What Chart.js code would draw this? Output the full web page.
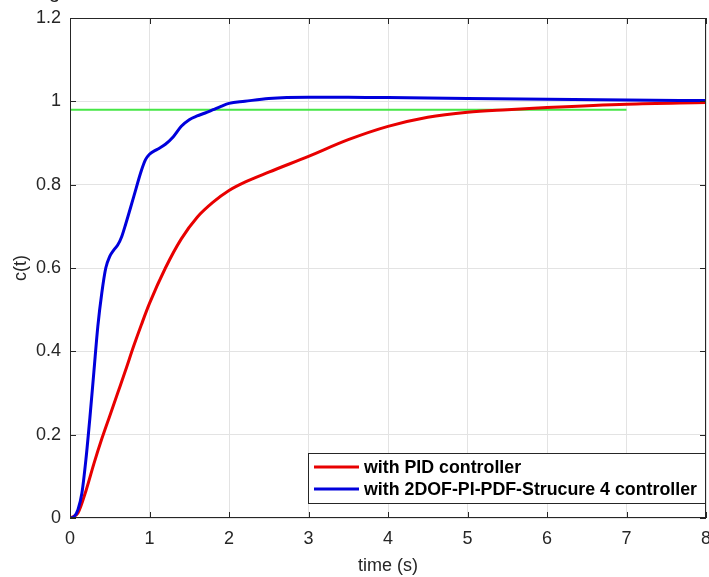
<!DOCTYPE html>
<html>
<head>
<meta charset="utf-8">
<script src="https://cdn.jsdelivr.net/npm/chart.js@4.4.1/dist/chart.umd.min.js"></script>
<style>
  html, body { margin: 0; padding: 0; background: #fff; }
  #wrap { width: 709px; height: 577px; position: relative; }
</style>
</head>
<body>
<div id="wrap"><canvas id="stepChart" width="709" height="577"></canvas></div>
<script>
/* step response data */
const pidTime   = [0, 0.1, 0.2, 0.3, 0.4, 0.5, 0.6, 0.7, 0.8, 0.9, 1.0, 1.2, 1.4, 1.6, 1.8, 2.0, 2.2, 2.5, 3.0, 3.5, 4.0, 4.5, 5.0, 5.5, 6.0, 7.0, 8.0];
const pidValues = [0, 0.012, 0.065, 0.13, 0.19, 0.245, 0.3, 0.355, 0.412, 0.465, 0.515, 0.6, 0.67, 0.722, 0.758, 0.786, 0.806, 0.83, 0.868, 0.908, 0.94, 0.962, 0.974, 0.98, 0.985, 0.993, 0.997];

const dofTime   = [0, 0.05, 0.1, 0.15, 0.2, 0.25, 0.3, 0.35, 0.4, 0.45, 0.5, 0.55, 0.6, 0.65, 0.7, 0.8, 0.9, 0.95, 1.0, 1.1, 1.2, 1.3, 1.4, 1.5, 1.6, 1.7, 1.8, 1.9, 2.0, 2.2, 2.5, 3.0, 3.5, 4.0, 5.0, 6.0, 7.0, 8.0];
const dofValues = [0, 0.003, 0.02, 0.06, 0.14, 0.24, 0.35, 0.46, 0.54, 0.6, 0.628, 0.643, 0.655, 0.675, 0.705, 0.77, 0.835, 0.86, 0.873, 0.885, 0.897, 0.915, 0.94, 0.956, 0.965, 0.972, 0.98, 0.988, 0.995, 1.0, 1.007, 1.01, 1.01, 1.009, 1.007, 1.005, 1.003, 1.002];

const refTime   = [0, 7];
const refValues = [0.98, 0.98];

const xTicks = [0, 1, 2, 3, 4, 5, 6, 7, 8];
const yTicks = [0, 0.2, 0.4, 0.6, 0.8, 1, 1.2];

const pts = (xs, ys) => xs.map((x, i) => ({ x: x, y: ys[i] }));

const FONT = '"Liberation Sans", Arial, Helvetica, sans-serif';

/* ── box, inward ticks, titles, legend ─────────────────── */
const matlabAxes = {
  id: 'matlabAxes',
  afterDraw(chart) {
    const { ctx, chartArea: a, scales } = chart;
    ctx.save();
    ctx.strokeStyle = '#262626';
    ctx.lineWidth = 1;
    ctx.strokeRect(a.left + 0.5, a.top + 0.5, a.right - a.left - 1, a.bottom - a.top - 1);

    ctx.beginPath();
    xTicks.forEach(v => {
      const px = Math.round(scales.x.getPixelForValue(v)) + 0.5;
      ctx.moveTo(px, a.bottom); ctx.lineTo(px, a.bottom - 6);
      ctx.moveTo(px, a.top);    ctx.lineTo(px, a.top + 6);
    });
    yTicks.forEach(v => {
      const py = Math.round(scales.y.getPixelForValue(v)) + 0.5;
      ctx.moveTo(a.left, py);  ctx.lineTo(a.left + 6, py);
      ctx.moveTo(a.right, py); ctx.lineTo(a.right - 6, py);
    });
    ctx.stroke();

    /* axis titles */
    ctx.fillStyle = '#262626';
    ctx.font = '18px ' + FONT;
    ctx.textAlign = 'center';
    ctx.textBaseline = 'middle';
    ctx.fillText('time (s)', (a.left + a.right) / 2, 566);
    ctx.save();
    ctx.translate(21, 268);
    ctx.rotate(-Math.PI / 2);
    ctx.fillText('c(t)', 0, 0);
    ctx.restore();

    /* cut-off figure title remnant */
    ctx.textAlign = 'left';
    ctx.textBaseline = 'alphabetic';
    ctx.font = '20px ' + FONT;
    ctx.fillText('g', 49, -2);

    /* legend */
    const lx = 308, ly = 453, lw = 397, lh = 50;
    ctx.fillStyle = '#fff';
    ctx.fillRect(lx, ly, lw, lh);
    ctx.strokeStyle = '#262626';
    ctx.strokeRect(lx + 0.5, ly + 0.5, lw, lh);
    ctx.font = 'bold 17.8px ' + FONT;
    ctx.textBaseline = 'middle';
    chart.data.datasets.filter(d => d.label).forEach((d, i) => {
      const y = ly + 14 + i * 22;
      ctx.strokeStyle = d.borderColor;
      ctx.lineWidth = 3;
      ctx.beginPath();
      ctx.moveTo(lx + 6, y); ctx.lineTo(lx + 51, y);
      ctx.stroke();
      ctx.fillStyle = '#000';
      ctx.fillText(d.label, lx + 56, y + 1);
    });
    ctx.restore();
  }
};

new Chart(document.getElementById('stepChart'), {
  type: 'line',
  data: {
    datasets: [
      {
        label: 'with PID controller',
        data: pts(pidTime, pidValues),
        borderColor: 'rgb(232,0,0)', borderWidth: 3,
        pointRadius: 0, cubicInterpolationMode: 'monotone', fill: false, order: 2
      },
      {
        label: 'with 2DOF-PI-PDF-Strucure 4 controller',
        data: pts(dofTime, dofValues),
        borderColor: 'rgb(0,0,220)', borderWidth: 3,
        pointRadius: 0, cubicInterpolationMode: 'monotone', fill: false, order: 1
      },
      {
        label: '',
        data: pts(refTime, refValues),
        borderColor: 'rgb(70,230,70)', borderWidth: 2,
        pointRadius: 0, fill: false, order: 3
      }
    ]
  },
  options: {
    responsive: false, animation: false,
    layout: { padding: { top: 18, right: 3, left: 0, bottom: 0 } },
    plugins: { legend: { display: false }, tooltip: { enabled: false } },
    scales: {
      x: {
        type: 'linear', min: 0, max: 8,
        afterFit: s => { s.height = 59; s.paddingLeft = 0; s.paddingRight = 0; },
        afterBuildTicks: s => { s.ticks = xTicks.map(v => ({ value: v })); },
        grid: { color: '#e3e3e3', drawTicks: false },
        border: { display: false },
        ticks: { padding: 10, color: '#262626', font: { family: FONT, size: 18 }, maxRotation: 0 }
      },
      y: {
        type: 'linear', min: 0, max: 1.2,
        afterFit: s => { s.width = 70; s.paddingTop = 0; s.paddingBottom = 0; },
        afterBuildTicks: s => { s.ticks = yTicks.map(v => ({ value: v })); },
        grid: { color: '#e3e3e3', drawTicks: false },
        border: { display: false },
        ticks: {
          padding: 9, color: '#262626', font: { family: FONT, size: 18 },
          callback: v => String(+v.toFixed(1))
        }
      }
    }
  },
  plugins: [matlabAxes]
});
</script>
</body>
</html>
